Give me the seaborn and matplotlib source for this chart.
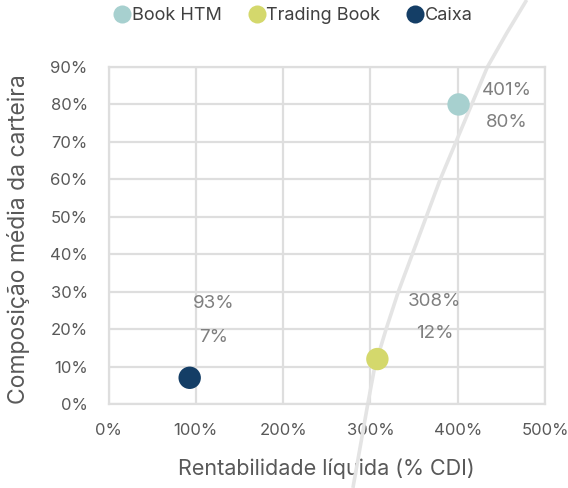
import matplotlib
matplotlib.use("Agg")
import matplotlib.pyplot as plt
import seaborn as sns
import pandas as pd

# Portfolio segments: net return (% of CDI) vs. average share of the portfolio
segments = ["Book HTM", "Trading Book", "Caixa"]
rentabilidade = [4.01, 3.08, 0.93]
composicao = [0.80, 0.12, 0.07]
cores = ["#A7D0CF", "#D4D86C", "#143E66"]

# Gray reference curve
curva_x = [2.80, 2.97, 3.05, 3.18, 3.32, 3.48, 3.64, 3.80, 3.98, 4.16, 4.34, 4.56, 4.79]
curva_y = [-0.224, 0.00, 0.10, 0.20, 0.30, 0.40, 0.50, 0.60, 0.70, 0.80, 0.90, 0.99, 1.079]

x_ticks = [0, 1, 2, 3, 4, 5]
y_ticks = [0.0, 0.1, 0.2, 0.3, 0.4, 0.5, 0.6, 0.7, 0.8, 0.9]

sns.set_theme(style="white")
plt.rcParams["font.family"] = ["Inter", "DejaVu Sans"]

df = pd.DataFrame({"segmento": segments, "x": rentabilidade, "y": composicao})

fig = plt.figure(figsize=(5.68, 4.88), dpi=100)
ax = fig.add_axes([108.5 / 568, 1 - 404 / 488, (545 - 108.5) / 568, (404 - 67) / 488])

grid_color = "#DEDEDE"
ax.set_xlim(0, 5)
ax.set_ylim(0, 0.9)
ax.set_xticks(x_ticks)
ax.set_yticks(y_ticks)
ax.set_xticklabels([f"{int(round(t * 100))}%" for t in x_ticks])
ax.set_yticklabels([f"{int(round(t * 100))}%" for t in y_ticks])
ax.grid(True, color=grid_color, linewidth=1.6)
ax.set_axisbelow(True)
for s in ax.spines.values():
    s.set_color(grid_color)
    s.set_linewidth(1.6)
ax.tick_params(axis="both", length=0, labelsize=12, colors="#595959")
ax.tick_params(axis="x", pad=14)
ax.tick_params(axis="y", pad=15)

ax.plot(curva_x, curva_y, color="#E4E4E4", linewidth=2.6, clip_on=False,
        zorder=1.5, solid_capstyle="butt")

sns.scatterplot(data=df, x="x", y="y", hue="segmento", hue_order=segments,
                palette=dict(zip(segments, cores)), s=260, linewidth=0,
                ax=ax, zorder=3, legend=False)

# Value labels
offsets = {"Book HTM": (48, 14, -18), "Trading Book": (57, 58, 26), "Caixa": (24, 74, 40)}
for seg, xv, yv in zip(segments, rentabilidade, composicao):
    dx, dy1, dy2 = offsets[seg]
    ax.annotate(f"{round(xv * 100):.0f}%", (xv, yv), xytext=(dx * 0.72, dy1 * 0.72),
                textcoords="offset points", ha="center", va="center",
                fontsize=13.5, color="#7F7F7F")
    ax.annotate(f"{round(yv * 100):.0f}%", (xv, yv), xytext=(dx * 0.72, dy2 * 0.72),
                textcoords="offset points", ha="center", va="center",
                fontsize=13.5, color="#7F7F7F")

ax.set_xlabel("Rentabilidade líquida (% CDI)", fontsize=15.5, color="#595959")
ax.set_ylabel("Composição média da carteira", fontsize=16.5, color="#595959")
ax.xaxis.set_label_coords(0.5, -0.193)
ax.yaxis.set_label_coords(-0.207, 0.49)
ax.xaxis.label.set_va("center")
ax.yaxis.label.set_va("center")

handles = [plt.Line2D([], [], marker="o", linestyle="", markersize=13,
                      markerfacecolor=c, markeredgewidth=0) for c in cores]
fig.legend(handles, segments, loc="center", bbox_to_anchor=(293 / 568, 1 - 16 / 488),
           ncol=3, frameon=False, fontsize=13, handletextpad=0.05,
           columnspacing=1.4, labelcolor="#404040", handlelength=1.0)

fig.savefig("out.png", dpi=100)
